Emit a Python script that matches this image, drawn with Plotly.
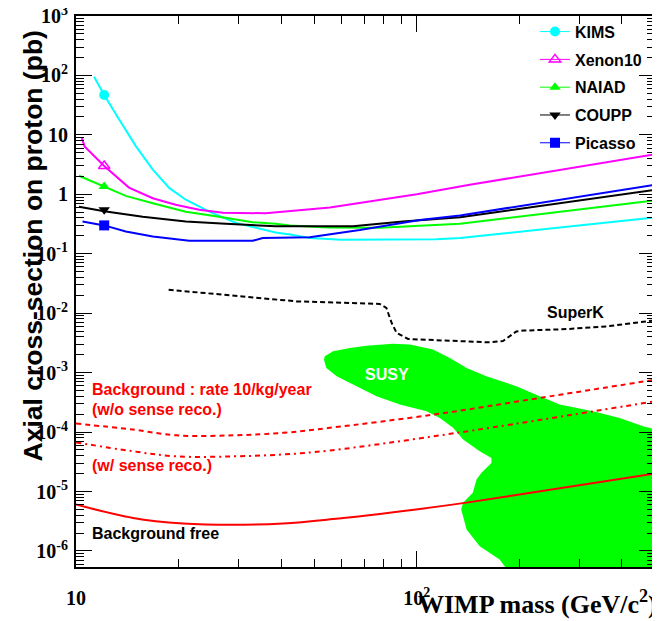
import numpy as np
import plotly.graph_objects as go

# ---------------- data (WIMP mass in GeV/c^2, cross-section in pb) ----------------
kims_m = [11.3, 12.1, 13.4, 15.0, 16.8, 18.8, 21.0, 24.6, 29.5, 38.5, 42.5, 48.5, 60, 114, 134, 500]
kims_s = [95, 47, 17.9, 6.4, 2.6, 1.27, 0.81, 0.51, 0.33, 0.228, 0.21, 0.184, 0.172, 0.175, 0.184, 0.41]

xenon_m = [10.4, 10.6, 12.1, 13.1, 14.3, 16.8, 19.6, 23.0, 27.0, 36.0, 55.6, 100, 143, 500]
xenon_s = [8.8, 6.4, 3.0, 2.0, 1.3, 0.86, 0.67, 0.55, 0.49, 0.48, 0.60, 1.0, 1.45, 4.7]

naiad_m = [10.2, 12.1, 14.0, 16.8, 21, 26.3, 33, 38.5, 42.5, 55, 78, 102, 134, 500]
naiad_s = [2.05, 1.35, 0.94, 0.71, 0.51, 0.42, 0.34, 0.32, 0.30, 0.277, 0.275, 0.296, 0.32, 0.79]

coupp_m = [10.2, 12.1, 15.7, 21, 27.5, 38.5, 65, 91, 134, 500]
coupp_s = [0.62, 0.52, 0.42, 0.35, 0.32, 0.29, 0.29, 0.35, 0.41, 1.19]

picasso_m = [10.45, 12.1, 14.0, 16.8, 21.5, 33, 35.3, 48.5, 68, 102, 134, 500]
picasso_s = [0.35, 0.30, 0.237, 0.195, 0.165, 0.165, 0.184, 0.19, 0.25, 0.37, 0.44, 1.45]

marker_m = [12.1, 12.1, 12.1, 12.1, 12.1]
marker_s = [47, 3.0, 1.35, 0.55, 0.30]

superk_m = [18.7, 30.3, 44.4, 77.8, 81.4, 84.4, 87.3, 94.3, 125, 164, 179, 196, 206, 275, 360, 500]
superk_s = [0.0248, 0.0192, 0.0158, 0.0143, 0.0123, 0.00685, 0.00465, 0.00368, 0.00349,
            0.00323, 0.0034, 0.00494, 0.0051, 0.0054, 0.006, 0.0076]

bkg_noreco_m = [10, 14.7, 19.7, 28.9, 40.5, 55.6, 112, 230, 500]
bkg_noreco_s = [1.39e-4, 1.1e-4, 8.8e-5, 8.8e-5, 9.7e-5, 1.18e-4, 1.97e-4, 3.76e-4, 7.6e-4]

bkg_reco_m = [10, 14.7, 19.7, 28.9, 40.5, 55.6, 131, 500]
bkg_reco_s = [6.7e-5, 4.75e-5, 3.9e-5, 3.9e-5, 4.2e-5, 4.9e-5, 9.7e-5, 3.3e-4]

bkg_free_m = [10, 14.7, 20.6, 28.9, 40.5, 55.6, 99.5, 140, 500]
bkg_free_s = [6.05e-6, 3.6e-6, 2.9e-6, 2.75e-6, 2.9e-6, 3.4e-6, 5.0e-6, 6.5e-6, 2.0e-5]

susy_m = [53.4, 53.7, 56.8, 63.6, 71.2, 85.2, 95.4, 111.6, 125, 140, 160, 196, 229.5, 262.7,
          328.8, 393.8, 461, 520, 520, 196, 175, 153, 140, 135, 136.7, 146, 149.7, 154.8,
          165.6, 165.6, 153, 136.7, 127.8, 116.8, 106.8, 89.2, 76.2, 66.6, 58.2, 54.3, 53.4]
susy_s = [1.65e-3, 1.88e-3, 2.28e-3, 2.6e-3, 2.84e-3, 3.07e-3, 2.96e-3, 2.44e-3, 1.77e-3, 1.2e-3,
          8.7e-4, 5.9e-4, 4.0e-4, 2.9e-4, 2.24e-4, 1.73e-4, 1.25e-4, 1.05e-4, 3e-7, 3e-7, 7.2e-7,
          1.2e-6, 2.3e-6, 5.0e-6, 6.5e-6, 9.5e-6, 1.6e-5, 2.06e-5, 3.03e-5, 3.68e-5, 4.75e-5,
          7.5e-5, 1.18e-4, 1.73e-4, 2.24e-4, 2.9e-4, 4.0e-4, 5.9e-4, 8.7e-4, 1.2e-3, 1.65e-3]

x_tickvals = [10, 100]
x_ticktext = ["10", "10<sup>2</sup>"]
y_tickvals = [1e-6, 1e-5, 1e-4, 1e-3, 1e-2, 1e-1, 1, 10, 100, 1000]
y_ticktext = ["10<sup>-6</sup>", "10<sup>-5</sup>", "10<sup>-4</sup>", "10<sup>-3</sup>",
              "10<sup>-2</sup>", "10<sup>-1</sup>", "1", "10", "10<sup>2</sup>", "10<sup>3</sup>"]

x_minor = [k * 10 ** e for e in (1, 2) for k in range(2, 10) if k * 10 ** e <= 500]
y_minor = [k * 10.0 ** e for e in range(-7, 3) for k in range(2, 10)]

SANS = "Liberation Sans, Arial, sans-serif"
SERIF = "Liberation Serif, Times New Roman, serif"

fig = go.Figure()

# SUSY region
fig.add_trace(go.Scatter(x=susy_m, y=susy_s, mode="lines", fill="toself",
                         fillcolor="#00ff00", line=dict(width=0, color="#00ff00"),
                         showlegend=False, hoverinfo="skip"))

# red background curves
fig.add_trace(go.Scatter(x=bkg_noreco_m, y=bkg_noreco_s, mode="lines", showlegend=False,
                         line=dict(color="#ff0000", width=2, dash="5px,4px", shape="spline")))
fig.add_trace(go.Scatter(x=bkg_reco_m, y=bkg_reco_s, mode="lines", showlegend=False,
                         line=dict(color="#ff0000", width=2, dash="5px,4px,2px,4px", shape="spline")))
fig.add_trace(go.Scatter(x=bkg_free_m, y=bkg_free_s, mode="lines", showlegend=False,
                         line=dict(color="#ff0000", width=2, shape="spline")))

# SuperK
fig.add_trace(go.Scatter(x=superk_m, y=superk_s, mode="lines", showlegend=False,
                         line=dict(color="black", width=2, dash="5px,3px")))

series = [
    ("KIMS", kims_m, kims_s, "#00ffff", "circle"),
    ("Xenon10", xenon_m, xenon_s, "#ff00ff", "triangle-up-open"),
    ("NAIAD", naiad_m, naiad_s, "#00ff00", "triangle-up"),
    ("COUPP", coupp_m, coupp_s, "#000000", "triangle-down"),
    ("Picasso", picasso_m, picasso_s, "#0000ff", "square"),
]
for i, (name, m, s, col, sym) in enumerate(series):
    fig.add_trace(go.Scatter(x=m, y=s, mode="lines", line=dict(color=col, width=2),
                             showlegend=False, legendgroup=name))
for i, (name, m, s, col, sym) in enumerate(series):
    fig.add_trace(go.Scatter(x=[marker_m[i]], y=[marker_s[i]], mode="lines+markers", name=name,
                             legendgroup=name,
                             line=dict(color=col, width=1),
                             marker=dict(symbol=sym, size=10, color=col,
                                         line=dict(color=col, width=1.5 if "open" in sym else 0))))

L = np.log10
ann_font = dict(family=SANS, size=16, weight="bold")
annotations = [
    dict(x=L(81.7), y=L(9.2e-4), text="SUSY", font=dict(ann_font, color="white"),
         xanchor="center", yanchor="middle"),
    dict(x=L(291.7), y=L(0.0103), text="SuperK", font=dict(ann_font, color="black"),
         xanchor="center", yanchor="middle"),
    dict(x=L(11.0), y=L(5.2e-4), text="Background : rate 10/kg/year", font=dict(ann_font, color="#ff0000"),
         xanchor="left", yanchor="middle"),
    dict(x=L(11.0), y=L(2.39e-4), text="(w/o sense reco.)", font=dict(ann_font, color="#ff0000"),
         xanchor="left", yanchor="middle"),
    dict(x=L(11.0), y=L(2.77e-5), text="(w/ sense reco.)", font=dict(ann_font, color="#ff0000"),
         xanchor="left", yanchor="middle"),
    dict(x=L(11.0), y=L(2.0e-6), text="Background free", font=dict(ann_font, color="black"),
         xanchor="left", yanchor="middle"),
]
for a in annotations:
    a.update(xref="x", yref="y", showarrow=False)

# plot area in window pixels: x 76..655, y 16..567 (page body has an 8px margin)
annotations.append(dict(xref="paper", yref="paper", x=(32 - 76) / 579, y=(567 - 29) / 551,
                        xanchor="center", yanchor="top", textangle=-90, showarrow=False,
                        text="Axial cross-section on proton (pb)",
                        font=dict(family=SANS, size=26.5, weight="bold", color="black")))
annotations.append(dict(xref="paper", yref="paper", x=(659 - 76) / 579, y=(567 - 602) / 551,
                        xanchor="right", yanchor="middle", showarrow=False,
                        text="WIMP mass (GeV/c<sup>2</sup>)",
                        font=dict(family=SERIF, size=26, weight="bold", color="black")))

axis_common = dict(type="log", showgrid=False, zeroline=False, showline=True, linewidth=2,
                   linecolor="black", mirror="ticks", ticks="inside", tickwidth=1,
                   tickcolor="black", tickmode="array", automargin=False,
                   ticklabeloverflow="allow",
                   tickfont=dict(family=SERIF, size=20, weight="bold", color="black"))

fig.update_layout(
    width=652, height=613,
    margin=dict(l=68, r=5, t=8, b=54, autoexpand=False),
    paper_bgcolor="white", plot_bgcolor="white",
    showlegend=True,
    legend=dict(x=(535 - 76) / 579, y=1.0024, xanchor="left", yanchor="top",
                bgcolor="rgba(0,0,0,0)", tracegroupgap=4,
                font=dict(family=SANS, size=16, weight="bold", color="black")),
    xaxis=dict(axis_common, range=[1, L(500)], tickvals=x_tickvals, ticktext=x_ticktext,
               ticklen=16, ticklabelstandoff=12,
               minor=dict(tickmode="array", tickvals=x_minor, ticks="inside", ticklen=8,
                          tickwidth=1, tickcolor="black", showgrid=False)),
    yaxis=dict(axis_common, range=[-6.27, 3], tickvals=y_tickvals, ticktext=y_ticktext,
               ticklen=16, ticklabelstandoff=2,
               minor=dict(tickmode="array", tickvals=y_minor, ticks="inside", ticklen=8,
                          tickwidth=1, tickcolor="black", showgrid=False)),
    annotations=annotations,
)

fig.write_html("out.html")
